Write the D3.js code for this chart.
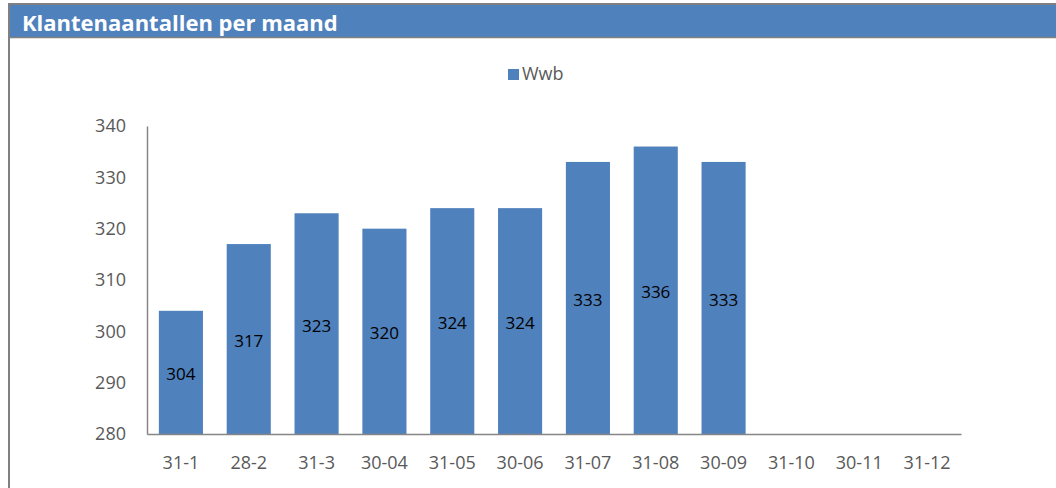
<!DOCTYPE html>
<html>
<head>
<meta charset="utf-8">
<script src="https://cdn.jsdelivr.net/npm/d3@7"></script>
<style>
  html, body { margin: 0; padding: 0; background: #fff; }
  svg { display: block; }
</style>
</head>
<body>
<svg id="chart" width="1056" height="488"></svg>
<script>
// chart data
const title = "Klantenaantallen per maand";
const seriesName = "Wwb";
const categories = ["31-1", "28-2", "31-3", "30-04", "31-05", "30-06", "31-07", "31-08", "30-09", "31-10", "30-11", "31-12"];
const values = [304, 317, 323, 320, 324, 324, 333, 336, 333, null, null, null];
const yTicks = [280, 290, 300, 310, 320, 330, 340];

const svg = d3.select("#chart");
const blue = "#4F81BD";
const grey = "#808080";
const font = "'Open Sans', sans-serif";

// frame + header band
svg.append("rect").attr("x", 10).attr("y", 5).attr("width", 1046).attr("height", 32).attr("fill", blue);
svg.append("line").attr("x1", 8).attr("x2", 1056).attr("y1", 4).attr("y2", 4)
  .attr("stroke", grey).attr("stroke-width", 2);
svg.append("line").attr("x1", 8).attr("x2", 1056).attr("y1", 37.5).attr("y2", 37.5)
  .attr("stroke", grey).attr("stroke-width", 1.5);
svg.append("line").attr("x1", 9).attr("x2", 9).attr("y1", 3).attr("y2", 488)
  .attr("stroke", grey).attr("stroke-width", 2);

svg.append("text")
  .attr("x", 22).attr("y", 30.5)
  .attr("fill", "#fff")
  .attr("font-family", font)
  .attr("font-weight", "bold")
  .attr("font-size", 22)
  .text(title);

// scales
const x = d3.scaleBand().domain(categories).range([147, 961]).paddingInner(0.35).paddingOuter(0.175);
const y = d3.scaleLinear().domain([280, 340]).range([434, 126]);

const barData = categories.map((c, i) => ({ c, v: values[i] })).filter(d => d.v != null);

// bars
const g = svg.append("g");
g.selectAll("rect.bar")
  .data(barData)
  .enter().append("rect")
  .attr("class", "bar")
  .attr("x", d => x(d.c))
  .attr("width", x.bandwidth())
  .attr("y", d => y(d.v))
  .attr("height", d => y(280) - y(d.v))
  .attr("fill", blue);

// data labels
g.selectAll("text.lbl")
  .data(barData)
  .enter().append("text")
  .attr("class", "lbl")
  .attr("x", d => x(d.c) + x.bandwidth() / 2)
  .attr("y", d => (y(d.v) + y(280)) / 2 + 2)
  .attr("dy", "0.35em")
  .attr("text-anchor", "middle")
  .attr("font-family", font)
  .attr("font-size", 17)
  .attr("fill", "#000")
  .text(d => d.v);

// y axis
const yAxis = svg.append("g")
  .attr("transform", "translate(147,0)")
  .call(d3.axisLeft(y).tickValues(yTicks).tickSize(0).tickPadding(21));
yAxis.select(".domain").attr("stroke", "#868686").attr("stroke-width", 1.5);
yAxis.selectAll("text").attr("font-family", font).attr("font-size", 18).attr("fill", "#595959");

// x axis
const xAxis = svg.append("g")
  .attr("transform", "translate(0,434)")
  .call(d3.axisBottom(x).tickSize(0).tickPadding(22));
xAxis.select(".domain").attr("stroke", "#868686").attr("stroke-width", 1.5);
xAxis.selectAll("text").attr("font-family", font).attr("font-size", 18).attr("fill", "#595959");

// legend
svg.append("rect").attr("x", 508).attr("y", 69).attr("width", 11).attr("height", 11).attr("fill", blue);
svg.append("text")
  .attr("x", 522).attr("y", 80)
  .attr("font-family", font)
  .attr("font-size", 18)
  .attr("fill", "#595959")
  .text(seriesName);
</script>
</body>
</html>
